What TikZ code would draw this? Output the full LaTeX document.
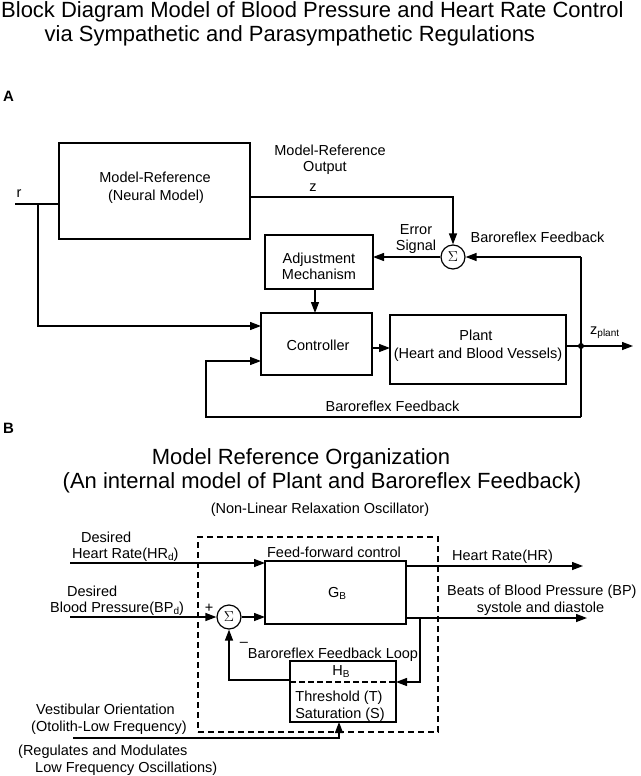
\documentclass[tikz,border=0pt]{standalone}
\usepackage{fontspec}
\setmainfont{Liberation Sans}
\usetikzlibrary{arrows.meta}
\newcommand\mysub[1]{\raisebox{-0.35ex}{\fontsize{10}{10}\selectfont #1}}
\begin{document}
\begin{tikzpicture}[x=1pt,y=-1pt,
  box/.style={draw, line width=1.3pt, inner sep=0pt, outer sep=0pt},
  sumc/.style={draw, circle, line width=1.2pt, minimum size=24pt, inner sep=0pt, font=\fontsize{14}{14}\selectfont},
  wire/.style={line width=1.3pt},
  arr/.style={line width=1.3pt, -{Triangle[length=11pt,width=8pt]}},
  lab/.style={inner sep=0pt, anchor=base, font=\fontsize{14.5}{17}\selectfont},
  labw/.style={lab, anchor=base west},
  ttl/.style={inner sep=0pt, anchor=base west, font=\fontsize{22}{26}\selectfont},
  ttlc/.style={inner sep=0pt, anchor=base, font=\fontsize{22}{26}\selectfont},
  panel/.style={inner sep=0pt, anchor=base west, font=\fontsize{15}{15}\selectfont\bfseries},
  jdot/.style={circle, fill, inner sep=0pt, minimum size=6pt},
  dbox/.style={draw, dashed, dash pattern=on 6pt off 4pt, line width=1.3pt, inner sep=0pt}
]
\fill[white] (0,0) rectangle (640,776);
\useasboundingbox (0,0) rectangle (640,776);

% ---------- Titles ----------
\node[ttl] (t1) at (1,17.5) {Block Diagram Model of Blood Pressure and Heart Rate Control};
\node[ttl] (t2) at (44.5,42) {via Sympathetic and Parasympathetic Regulations};
\node[panel] (pA) at (3,101) {A};
\node[panel] (pB) at (3,433) {B};

% ---------- Part A ----------
\node[box, minimum width=191pt, minimum height=96pt] (mref) at (154.5,191) {};
\node[lab] (mreft1) at (155,182) {Model-Reference};
\node[lab] (mreft2) at (156,200) {(Neural Model)};

\node[box, minimum width=108pt, minimum height=54pt] (adj) at (319,262) {};
\node[lab] (adjt1) at (319,263) {Adjustment};
\node[lab] (adjt2) at (319,279) {Mechanism};

\node[box, minimum width=111pt, minimum height=62pt] (ctrl) at (316.5,344) {};
\node[lab] (ctrlt) at (318,350) {Controller};

\node[box, minimum width=176pt, minimum height=69pt] (plant) at (478,349.5) {};
\node[lab] (plantt1) at (476,340) {Plant};
\node[lab] (plantt2) at (478,358) {(Heart and Blood Vessels)};

\node[sumc] (sumA) at (453,257) {$\Sigma$};

\coordinate (rin) at (15,204);
\coordinate (jr) at (38,204);
\coordinate (yr) at (0,326);
\coordinate (yz) at (0,197);
\coordinate (fbtop) at (581,257);
\coordinate (fbbot) at (581,417);
\coordinate (fbl) at (206,361);
\coordinate (xa) at (315,0);
\coordinate (yp) at (0,348);
\coordinate (zout) at (633,346);

\draw[wire] (rin) -- (rin -| mref.west);
\draw[arr] (jr) |- (yr -| ctrl.west);
\draw[arr] (yz -| mref.east) -| (sumA.north);
\draw[arr] (sumA.west) -- (sumA.west -| adj.east);
\draw[arr] (fbtop) -- (sumA.east);
\draw[wire] (fbtop) -- (fbbot);
\draw[arr] (fbbot) -| (fbl) -- (fbl -| ctrl.west);
\draw[arr] (xa |- adj.south) -- (xa |- ctrl.north);
\draw[arr] (yp -| ctrl.east) -- (yp -| plant.west);
\draw[arr] (zout -| plant.east) -- (zout);
\node[jdot] (jd) at (581,346) {};

\node[lab] (rl) at (19,197) {r};
\node[lab] (mro1) at (330,155) {Model-Reference};
\node[lab] (mro2) at (325,171) {Output};
\node[lab] (zl) at (313,191) {z};
\node[lab] (err1) at (416,234) {Error};
\node[lab] (err2) at (416,250) {Signal};
\node[lab] (bfA) at (537.5,242) {Baroreflex Feedback};
\node[labw] (zp) at (590,334) {z\mysub{plant}};
\node[lab] (bfA2) at (392.5,411) {Baroreflex Feedback};

% ---------- Part B ----------
\node[ttlc] (tb1) at (301,464) {Model Reference Organization};
\node[ttlc] (tb2) at (322,488) {(An internal model of Plant and Baroreflex Feedback)};
\node[lab] (tb3) at (320,513) {(Non-Linear Relaxation Oscillator)};

\node[dbox, minimum width=240pt, minimum height=195pt] (mrbox) at (318,634.5) {};

\node[box, minimum width=141pt, minimum height=63pt] (GB) at (335.5,592.5) {};
\node[lab] (GBt) at (337,597) {G\mysub{B}};

\node[box, minimum width=106pt, minimum height=61pt] (HB) at (343,691.5) {};
\node[lab] (HBt) at (341,675) {H\mysub{B}};
\node[lab] (HBt2) at (339,701) {Threshold (T)};
\node[lab] (HBt3) at (340,718) {Saturation (S)};
\coordinate (ydiv) at (0,682);
\draw[wire, dashed, dash pattern=on 6pt off 3pt] (ydiv -| HB.west) -- (ydiv -| HB.east);

\node[sumc] (sumB) at (229,617) {$\Sigma$};

\coordinate (hrin) at (70,563);
\coordinate (bpin) at (70,617);
\coordinate (hrout) at (583,566);
\coordinate (bpout) at (587,618);
\coordinate (tap) at (420,618);
\coordinate (tapb) at (420,682);
\coordinate (fbh) at (0,680);
\coordinate (vin) at (73,738);
\coordinate (vc) at (339,738);

\draw[arr] (hrin) -- (hrin -| GB.west);
\draw[arr] (bpin) -- (sumB.west);
\draw[arr] (sumB.east) -- (sumB.east -| GB.west);
\draw[arr] (hrout -| GB.east) -- (hrout);
\draw[arr] (bpout -| GB.east) -- (bpout);
\draw[arr] (tap) -- (tapb) -- (tapb -| HB.east);
\draw[arr] (fbh -| HB.west) -| (sumB.south);
\draw[arr] (vin) -- (vc) -- (vc |- HB.south);

\node[labw] (d1) at (81,542) {Desired};
\node[labw] (d2) at (72,558) {Heart Rate(HR\mysub{d})};
\node[labw] (d3) at (67,596) {Desired};
\node[labw] (d4) at (50,612) {Blood Pressure(BP\mysub{d})};
\node[lab] (ffc) at (334,557) {Feed-forward control};
\node[labw] (hro) at (452,560) {Heart Rate(HR)};
\node[labw] (bpo1) at (447,595) {Beats of Blood Pressure (BP)};
\node[lab] (bpo2) at (540.5,612) {systole and diastole};
\node[lab] (plus) at (209,612) {+};
\node[lab] (minus) at (244,646) {\textendash};
\node[lab] (bfl) at (333,658) {Baroreflex Feedback Loop};
\node[labw] (v1) at (36,714) {Vestibular Orientation};
\node[labw] (v2) at (31,731) {(Otolith-Low Frequency)};
\node[labw] (v3) at (18,755) {(Regulates and Modulates};
\node[labw] (v4) at (35,772) {Low Frequency Oscillations)};
\end{tikzpicture}
\end{document}
